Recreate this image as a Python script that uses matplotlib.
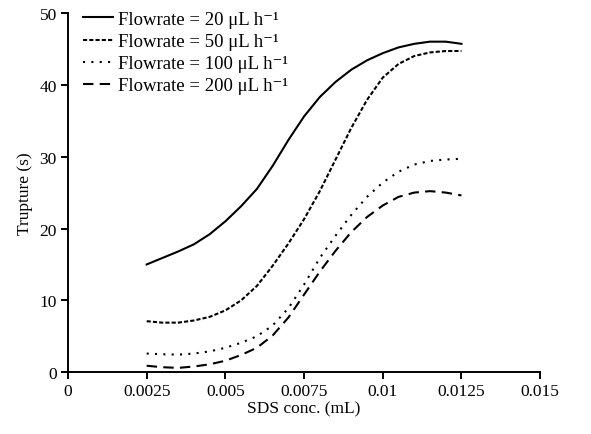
import matplotlib
matplotlib.use("Agg")
import matplotlib.pyplot as plt

plt.rcParams["font.family"] = ["Liberation Serif", "DejaVu Serif"]

# SDS concentration (mL) sampled along the curves
sds_conc = [0.0025, 0.003, 0.0035, 0.004, 0.0045, 0.005, 0.0055, 0.006, 0.0065, 0.007, 0.0075,
            0.008, 0.0085, 0.009, 0.0095, 0.01, 0.0105, 0.011, 0.0115, 0.012, 0.0125]

# Rupture time (s) for each flowrate
t_20 = [15.0, 15.9, 16.8, 17.8, 19.2, 21.0, 23.1, 25.5, 28.7, 32.3, 35.6,
        38.3, 40.4, 42.1, 43.4, 44.4, 45.2, 45.7, 46.0, 46.0, 45.7]
t_50 = [7.1, 6.9, 6.9, 7.2, 7.7, 8.6, 10.0, 12.0, 14.8, 17.9, 21.3,
        25.2, 29.6, 34.0, 37.9, 41.0, 42.9, 44.0, 44.5, 44.7, 44.7]
t_100 = [2.6, 2.5, 2.45, 2.6, 2.9, 3.4, 4.1, 5.0, 6.5, 8.9, 12.2,
         15.9, 19.0, 21.9, 24.4, 26.4, 27.9, 28.9, 29.4, 29.6, 29.7]
t_200 = [0.9, 0.7, 0.6, 0.8, 1.1, 1.6, 2.4, 3.4, 5.1, 7.6, 10.8,
         14.0, 16.9, 19.5, 21.6, 23.2, 24.4, 25.0, 25.2, 25.0, 24.6]

labels = ["Flowrate = 20 μL h\u207b\u00b9",
          "Flowrate = 50 μL h\u207b\u00b9",
          "Flowrate = 100 μL h\u207b\u00b9",
          "Flowrate = 200 μL h\u207b\u00b9"]

fig = plt.figure(figsize=(5.91, 4.35), dpi=100)
ax = fig.add_axes([0.115, 0.142, 0.799, 0.826])

ax.plot(sds_conc, t_20, color="black", linewidth=1.5, linestyle="-", label=labels[0])
ax.plot(sds_conc, t_50, color="black", linewidth=1.5, linestyle=(0, (2.0, 1.0)), label=labels[1])
ax.plot(sds_conc, t_100, color="black", linewidth=1.5, linestyle=(0, (1.0, 3.0)), label=labels[2])
ax.plot(sds_conc, t_200, color="black", linewidth=1.5, linestyle=(0, (5.0, 3.0)), label=labels[3])

ax.set_xlim(0, 0.015)
ax.set_ylim(0, 50)
ax.set_xticks([0, 0.0025, 0.005, 0.0075, 0.01, 0.0125, 0.015])
ax.set_xticklabels(["0", "0.0025", "0.005", "0.0075", "0.01", "0.0125", "0.015"])
ax.set_yticks([0, 10, 20, 30, 40, 50])

for side in ["top", "right"]:
    ax.spines[side].set_visible(False)
for side in ["left", "bottom"]:
    ax.spines[side].set_linewidth(1.4)
ax.tick_params(direction="out", length=5, width=1.4, labelsize=12.5, pad=3)

ax.set_xlabel("SDS conc. (mL)", fontsize=12.5, labelpad=1)
ax.set_ylabel("Trupture (s)", fontsize=12.5, labelpad=5)

ax.legend(loc="upper left", frameon=False, fontsize=13.5, handlelength=1.6,
          handletextpad=0.25, labelspacing=0.27, borderaxespad=0.0, borderpad=0.0,
          bbox_to_anchor=(0.032, 1.006))

fig.savefig("out.png", dpi=100)
